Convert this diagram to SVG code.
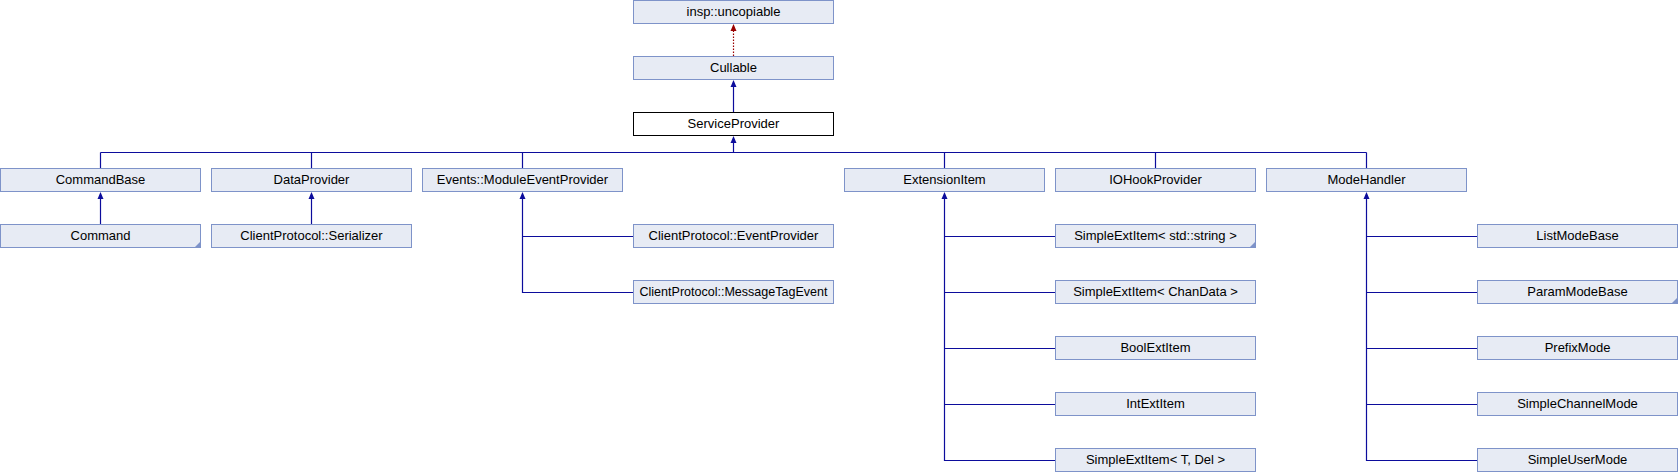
<svg xmlns="http://www.w3.org/2000/svg" xmlns:xlink="http://www.w3.org/1999/xlink" width="1678" height="472" viewBox="0 0 1678 472">
<style>
.box{fill:#e7ebf4;stroke:#7e93c9;stroke-width:1}
.cur{fill:#ffffff;stroke:#000000;stroke-width:1}
.lbl{font-family:"Liberation Sans",Arial,sans-serif;font-size:13px;fill:#000000;text-anchor:middle}
.corner{fill:#7e93c9}
.edge{fill:none;stroke:#0c0c9c;stroke-width:1.2}
.dot{fill:none;stroke:#9a0000;stroke-width:1.2;stroke-dasharray:1.5,1.5}
.ah{fill:#0c0c9c}
.ahr{fill:#9a0000}
</style>
<defs>
<path id="arr" d="M0,0 L-3,7 L3,7 Z"/>
</defs>
<rect width="1678" height="472" fill="#ffffff"/>

<g id="connectors">
  <line class="dot" x1="733.5" y1="56" x2="733.5" y2="29"/>
  <use xlink:href="#arr" x="733.5" y="24" class="ahr"/>
  <line class="edge" x1="733.5" y1="112" x2="733.5" y2="85"/>
  <use xlink:href="#arr" x="733.5" y="80" class="ah"/>
  <line class="edge" x1="733.5" y1="152.5" x2="733.5" y2="141"/>
  <use xlink:href="#arr" x="733.5" y="136" class="ah"/>
  <line class="edge" x1="100.5" y1="152.5" x2="1366.5" y2="152.5"/>
  <path class="edge" d="M100.5,152.5 V168 M311.5,152.5 V168 M522.5,152.5 V168 M944.5,152.5 V168 M1155.5,152.5 V168 M1366.5,152.5 V168"/>
  <line class="edge" x1="100.5" y1="224" x2="100.5" y2="197"/>
  <use xlink:href="#arr" x="100.5" y="192" class="ah"/>
  <line class="edge" x1="311.5" y1="224" x2="311.5" y2="197"/>
  <use xlink:href="#arr" x="311.5" y="192" class="ah"/>
  <path class="edge" d="M522.5,197 V292.5 H633 M522.5,236.5 H633"/>
  <use xlink:href="#arr" x="522.5" y="192" class="ah"/>
  <path class="edge" d="M944.5,197 V460.5 H1055 M944.5,236.5 H1055 M944.5,292.5 H1055 M944.5,348.5 H1055 M944.5,404.5 H1055"/>
  <use xlink:href="#arr" x="944.5" y="192" class="ah"/>
  <path class="edge" d="M1366.5,197 V460.5 H1477 M1366.5,236.5 H1477 M1366.5,292.5 H1477 M1366.5,348.5 H1477 M1366.5,404.5 H1477"/>
  <use xlink:href="#arr" x="1366.5" y="192" class="ah"/>
</g>

<g id="n-uncopiable"><rect class="box" x="633.5" y="0.5" width="200" height="23"/><text class="lbl" x="733.5" y="16">insp::uncopiable</text></g>
<g id="n-cullable"><rect class="box" x="633.5" y="56.5" width="200" height="23"/><text class="lbl" x="733.5" y="72">Cullable</text></g>
<g id="n-serviceprovider"><rect class="cur" x="633.5" y="112.5" width="200" height="23"/><text class="lbl" x="733.5" y="128">ServiceProvider</text></g>

<g id="n-commandbase"><rect class="box" x="0.5" y="168.5" width="200" height="23"/><text class="lbl" x="100.5" y="184">CommandBase</text></g>
<g id="n-dataprovider"><rect class="box" x="211.5" y="168.5" width="200" height="23"/><text class="lbl" x="311.5" y="184">DataProvider</text></g>
<g id="n-moduleeventprovider"><rect class="box" x="422.5" y="168.5" width="200" height="23"/><text class="lbl" x="522.5" y="184">Events::ModuleEventProvider</text></g>
<g id="n-extensionitem"><rect class="box" x="844.5" y="168.5" width="200" height="23"/><text class="lbl" x="944.5" y="184">ExtensionItem</text></g>
<g id="n-iohookprovider"><rect class="box" x="1055.5" y="168.5" width="200" height="23"/><text class="lbl" x="1155.5" y="184">IOHookProvider</text></g>
<g id="n-modehandler"><rect class="box" x="1266.5" y="168.5" width="200" height="23"/><text class="lbl" x="1366.5" y="184">ModeHandler</text></g>

<g id="n-command"><rect class="box" x="0.5" y="224.5" width="200" height="23"/><polygon class="corner" points="194,248 201,241 201,248"/><text class="lbl" x="100.5" y="240">Command</text></g>
<g id="n-serializer"><rect class="box" x="211.5" y="224.5" width="200" height="23"/><text class="lbl" x="311.5" y="240">ClientProtocol::Serializer</text></g>
<g id="n-eventprovider"><rect class="box" x="633.5" y="224.5" width="200" height="23"/><text class="lbl" x="733.5" y="240">ClientProtocol::EventProvider</text></g>
<g id="n-messagetagevent"><rect class="box" x="633.5" y="280.5" width="200" height="23"/><text class="lbl" x="733.5" y="296" textLength="188" lengthAdjust="spacingAndGlyphs">ClientProtocol::MessageTagEvent</text></g>

<g id="n-simpleext-string"><rect class="box" x="1055.5" y="224.5" width="200" height="23"/><polygon class="corner" points="1249,248 1256,241 1256,248"/><text class="lbl" x="1155.5" y="240">SimpleExtItem&lt; std::string &gt;</text></g>
<g id="n-simpleext-chandata"><rect class="box" x="1055.5" y="280.5" width="200" height="23"/><text class="lbl" x="1155.5" y="296">SimpleExtItem&lt; ChanData &gt;</text></g>
<g id="n-boolextitem"><rect class="box" x="1055.5" y="336.5" width="200" height="23"/><text class="lbl" x="1155.5" y="352">BoolExtItem</text></g>
<g id="n-intextitem"><rect class="box" x="1055.5" y="392.5" width="200" height="23"/><text class="lbl" x="1155.5" y="408">IntExtItem</text></g>
<g id="n-simpleext-tdel"><rect class="box" x="1055.5" y="448.5" width="200" height="23"/><text class="lbl" x="1155.5" y="464">SimpleExtItem&lt; T, Del &gt;</text></g>

<g id="n-listmodebase"><rect class="box" x="1477.5" y="224.5" width="200" height="23"/><text class="lbl" x="1577.5" y="240">ListModeBase</text></g>
<g id="n-parammodebase"><rect class="box" x="1477.5" y="280.5" width="200" height="23"/><polygon class="corner" points="1671,304 1678,297 1678,304"/><text class="lbl" x="1577.5" y="296">ParamModeBase</text></g>
<g id="n-prefixmode"><rect class="box" x="1477.5" y="336.5" width="200" height="23"/><text class="lbl" x="1577.5" y="352">PrefixMode</text></g>
<g id="n-simplechannelmode"><rect class="box" x="1477.5" y="392.5" width="200" height="23"/><text class="lbl" x="1577.5" y="408">SimpleChannelMode</text></g>
<g id="n-simpleusermode"><rect class="box" x="1477.5" y="448.5" width="200" height="23"/><text class="lbl" x="1577.5" y="464">SimpleUserMode</text></g>
</svg>
